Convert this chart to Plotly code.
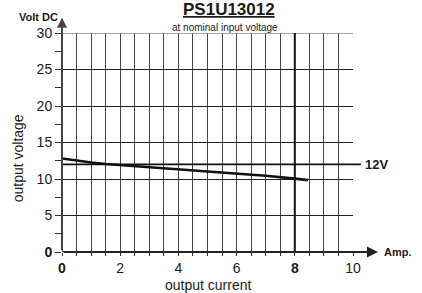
import plotly.graph_objects as go

# Data
current_a = [0, 0.5, 1, 1.5, 2, 3, 4, 5, 6, 7, 8, 8.45]
voltage_v = [12.8, 12.5, 12.25, 12.05, 11.9, 11.65, 11.3, 11.0, 10.75, 10.45, 10.05, 9.85]
nominal_v = 12
rated_a = 8
x_tickvals = [0, 2, 4, 6, 8, 10]
x_ticktext = ["<b>0</b>", "2", "4", "6", "<b>8</b>", "10"]
y_tickvals = [0, 5, 10, 15, 20, 25, 30]
y_ticktext = ["<b>0</b>", "5", "10", "15", "20", "25", "30"]

FONT = "Liberation Sans, Arial, sans-serif"
TXT = "#1a1a1a"

fig = go.Figure()
fig.add_trace(go.Scatter(x=current_a, y=voltage_v, mode="lines",
                         line=dict(color="#111", width=2.6), hoverinfo="skip",
                         showlegend=False))

fig.update_layout(
    width=422, height=293, autosize=False,
    margin=dict(l=62, r=69, t=33, b=41),
    paper_bgcolor="white", plot_bgcolor="white",
    font=dict(family=FONT, color=TXT, size=13),
    xaxis=dict(range=[0, 10], tickvals=x_tickvals, ticktext=x_ticktext,
               showgrid=True, gridcolor="#444", gridwidth=1,
               ticks="outside", ticklen=3, tickcolor="#333",
               minor=dict(dtick=0.5, showgrid=True, gridcolor="#444", gridwidth=1,
                          ticks="outside", ticklen=3, tickcolor="#333"),
               showline=False, zeroline=False, fixedrange=True,
               tickfont=dict(size=14, color=TXT)),
    yaxis=dict(range=[0, 30], tickvals=y_tickvals, ticktext=y_ticktext,
               showgrid=True, gridcolor="#222", gridwidth=1,
               ticks="outside", ticklen=6, tickcolor="#333",
               minor=dict(dtick=2.5, ticks="outside", ticklen=6, tickcolor="#333",
                          showgrid=False),
               showline=False, zeroline=False, fixedrange=True,
               tickfont=dict(size=14, color=TXT)),
)

# Top border line at 30 (gray)
fig.add_shape(type="line", xref="x", yref="y", x0=0, x1=10, y0=30, y1=30,
              line=dict(color="#888", width=1.5))
# Rated current vertical line
fig.add_shape(type="line", xref="x", yref="y", x0=rated_a, x1=rated_a, y0=0, y1=30,
              line=dict(color="#111", width=2))
# Nominal voltage horizontal line (extends beyond plot)
fig.add_shape(type="line", xref="paper", yref="y", x0=0, x1=1.027,
              y0=nominal_v, y1=nominal_v, line=dict(color="#111", width=1.6))

# Axis arrows
fig.add_annotation(xref="paper", yref="paper", x=1.086, y=0, ax=-316, ay=0,
                   axref="pixel", ayref="pixel", showarrow=True,
                   arrowhead=2, arrowsize=1, arrowwidth=2.2, arrowcolor="#222", text="")
fig.add_annotation(xref="paper", yref="paper", x=0, y=1.07, ax=0, ay=234,
                   axref="pixel", ayref="pixel", showarrow=True,
                   arrowhead=2, arrowsize=1, arrowwidth=2, arrowcolor="#444", text="")

# Texts
fig.add_annotation(xref="paper", yref="paper", x=0.573, y=1.108, showarrow=False,
                   text="<b><u>PS1U13012</u></b>", font=dict(size=17, color=TXT),
                   xanchor="center", yanchor="middle")
fig.add_annotation(xref="paper", yref="paper", x=0.56, y=1.025, showarrow=False,
                   text="at nominal input voltage", font=dict(size=10, color=TXT),
                   xanchor="center", yanchor="middle")
fig.add_annotation(xref="paper", yref="paper", x=-0.007, y=1.071, showarrow=False,
                   text="<b>Volt DC</b>", font=dict(size=11, color=TXT),
                   xanchor="right", yanchor="middle")
fig.add_annotation(xref="paper", yref="paper", x=-0.153, y=0.43, showarrow=False,
                   text="output voltage", textangle=-90, font=dict(size=14, color=TXT),
                   xanchor="center", yanchor="middle")
fig.add_annotation(xref="paper", yref="paper", x=0.5, y=-0.152, showarrow=False,
                   text="output current", font=dict(size=14, color=TXT),
                   xanchor="center", yanchor="middle")
fig.add_annotation(xref="paper", xanchor="left", x=1.035, yref="y", y=nominal_v,
                   showarrow=False, text="<b>12V</b>", font=dict(size=13, color=TXT),
                   yanchor="middle")
fig.add_annotation(xref="paper", xanchor="left", x=1.1, yref="y", y=0,
                   showarrow=False, text="<b>Amp.</b>", font=dict(size=11, color=TXT),
                   yanchor="middle")

# Bottom axis line (thick) and left axis
fig.add_shape(type="line", xref="x", yref="y", x0=0, x1=10, y0=0, y1=0,
              line=dict(color="#111", width=2))
fig.add_shape(type="line", xref="x", yref="y", x0=0, x1=0, y0=0, y1=30,
              line=dict(color="#555", width=2))

fig.write_html("out.html", config={"displayModeBar": False},
               post_script="document.body.style.margin='0';document.body.style.overflow='hidden';")
